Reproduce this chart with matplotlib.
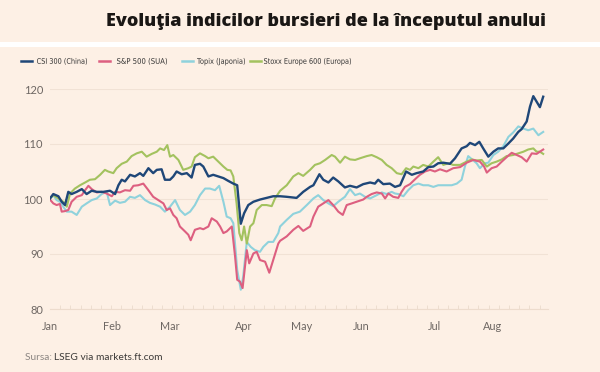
import matplotlib
matplotlib.use("Agg")
import matplotlib.pyplot as plt
from matplotlib.lines import Line2D
from matplotlib import font_manager as fm
from matplotlib.textpath import TextPath
from matplotlib.patches import PathPatch
from matplotlib.transforms import Affine2D
from matplotlib.font_manager import FontProperties

# ---------------- data (index values) ----------------
series_names = ["CSI 300 (China)", "S&P 500 (SUA)", "Topix (Japonia)", "Stoxx Europe 600 (Europa)"]
month_labels = ["Jan", "Feb", "Mar", "Apr", "May", "Jun", "Jul", "Aug"]
month_pos = [0, 20.7, 40, 64.5, 84, 103.7, 128, 147.5]   # trading-day index of month labels
y_ticks = [80, 90, 100, 110, 120]

csi_x = [0, 1.1, 2.8, 3.9, 5.0, 6.1, 7.2, 8.9, 10.6, 12.2, 13.9, 15.6, 17.8, 20.0, 21.7, 22.8,
         23.9, 25.0, 26.7, 28.3, 30.0, 31.1, 32.8, 34.4, 35.6, 37.2, 38.3, 40.0, 41.1, 42.2, 43.9,
         45.6, 47.2, 48.3, 50.0, 51.1, 52.8, 54.4, 56.1, 57.8, 59.4, 61.1, 62.4, 63.6, 64.7, 66.1,
         67.8, 70.0, 72.2, 74.4, 76.7, 78.9, 82.2, 84.4, 86.7, 87.8, 89.8, 91.1, 92.8, 94.4, 96.1,
         98.3, 100.0, 102.2, 104.4, 106.7, 108.3, 109.4, 111.1, 113.3, 115.0, 116.7, 118.7, 120.6,
         122.2, 124.4, 126.1, 127.8, 129.4, 131.1, 133.3, 135.0, 137.2, 138.9, 140.0, 141.7, 143.1,
         144.4, 146.1, 147.8, 149.4, 151.1, 152.8, 154.4, 156.1, 157.2, 158.9, 160.0, 161.1, 162.2,
         163.3, 164.4]
csi_y = [100.1, 100.9, 100.5, 99.5, 98.9, 101.3, 100.9, 101.3, 101.8, 100.9, 101.5, 101.3, 101.3,
         101.5, 100.9, 102.5, 103.5, 103.2, 104.4, 104.1, 104.7, 104.2, 105.6, 104.7, 105.3, 105.4,
         103.5, 103.5, 104.1, 105.0, 104.5, 104.7, 103.9, 106.2, 106.4, 105.9, 104.1, 104.4, 104.1,
         103.8, 103.3, 102.8, 102.5, 95.5, 97.4, 98.9, 99.5, 99.9, 100.2, 100.5, 100.5, 100.4, 100.2,
         101.3, 102.2, 102.5, 104.5, 103.5, 103.0, 103.9, 103.2, 102.1, 102.4, 102.1, 102.7, 103.0,
         102.8, 103.5, 102.7, 102.8, 102.2, 102.5, 105.0, 104.4, 104.7, 105.0, 105.8, 105.9, 106.5,
         106.6, 106.4, 107.4, 109.2, 109.6, 110.2, 109.8, 110.4, 109.2, 107.7, 108.6, 109.2, 109.2,
         110.1, 111.0, 112.2, 112.7, 114.1, 116.8, 118.7, 117.7, 116.7, 118.6]

spx_x = [0, 1.1, 2.2, 3.3, 3.9, 5.0, 6.1, 7.2, 8.9, 10.6, 11.7, 12.8, 13.9, 15.6, 17.2, 18.9, 20.6,
         21.7, 23.3, 25.0, 26.7, 27.8, 29.4, 31.1, 32.8, 34.4, 36.1, 37.8, 38.9, 40.0, 41.1, 42.2,
         43.3, 45.0, 46.1, 46.9, 48.3, 50.0, 51.1, 52.8, 53.9, 55.6, 56.7, 57.8, 58.9, 60.6, 61.7,
         62.4, 63.3, 64.2, 65.6, 66.4, 67.8, 68.9, 70.0, 71.7, 73.1, 74.4, 76.1, 76.7, 78.9, 81.1,
         82.8, 84.4, 86.7, 87.8, 89.4, 91.1, 92.8, 94.4, 96.1, 97.6, 98.9, 100.6, 102.2, 104.4,
         105.6, 107.2, 108.9, 110.6, 111.7, 112.8, 114.4, 116.1, 117.2, 118.3, 120.0, 121.7, 123.3,
         125.0, 126.7, 128.3, 130.0, 132.2, 134.4, 136.7, 138.9, 141.1, 143.3, 144.7, 145.6, 147.2,
         148.9, 150.6, 152.2, 153.9, 155.6, 157.2, 158.9, 160.6, 162.2, 163.3, 164.4]
spx_y = [99.9, 99.2, 98.9, 99.1, 97.7, 97.8, 98.0, 99.5, 100.4, 100.7, 101.6, 102.4, 101.8, 101.2,
         101.3, 101.0, 100.5, 101.3, 101.2, 101.6, 101.5, 102.4, 102.5, 102.8, 101.6, 100.4, 99.8,
         99.2, 98.0, 98.3, 97.1, 96.5, 95.0, 94.1, 93.5, 92.5, 94.4, 94.7, 94.5, 95.0, 96.5, 95.9,
         95.0, 93.8, 94.1, 95.0, 89.5, 85.3, 85.0, 83.8, 90.7, 88.3, 90.1, 90.4, 88.9, 88.6, 86.6,
         88.9, 91.9, 92.4, 93.2, 94.4, 95.1, 94.2, 95.0, 96.8, 98.6, 99.2, 99.8, 98.9, 97.7, 97.1,
         98.9, 99.2, 99.5, 99.9, 100.4, 100.9, 101.2, 101.0, 100.1, 101.0, 100.4, 100.2, 101.3,
         102.2, 102.7, 103.6, 104.4, 105.0, 105.3, 105.0, 105.4, 105.0, 105.6, 105.8, 106.6, 107.1,
         106.8, 105.9, 104.8, 105.6, 105.9, 106.8, 107.6, 108.4, 108.0, 107.6, 106.8, 108.3, 108.2,
         108.6, 109.0]

topix_x = [0, 1.1, 2.2, 3.3, 4.4, 5.6, 7.2, 8.9, 10.6, 12.2, 13.9, 15.6, 17.2, 18.9, 20.0, 21.7,
           23.3, 25.0, 26.7, 28.3, 30.0, 31.7, 33.3, 35.0, 36.7, 38.3, 40.0, 41.7, 43.3, 45.0, 46.7,
           48.3, 50.0, 51.7, 53.3, 55.0, 56.4, 57.8, 58.9, 60.2, 61.1, 62.4, 63.6, 64.4, 65.6, 66.9,
           68.3, 70.0, 71.1, 72.8, 74.4, 76.1, 76.7, 78.9, 81.1, 83.3, 85.6, 87.8, 89.4, 91.1, 92.8,
           94.4, 96.1, 98.3, 100.0, 101.7, 103.3, 105.0, 106.7, 108.9, 110.6, 112.2, 113.9, 115.0,
           116.1, 117.8, 119.4, 121.1, 122.8, 124.4, 126.1, 127.8, 129.4, 131.7, 133.9, 135.6, 137.2,
           138.3, 139.4, 140.9, 142.2, 143.3, 145.0, 146.1, 147.8, 149.4, 151.1, 152.8, 154.4, 156.1,
           157.8, 159.4, 161.1, 162.8, 164.4]
topix_y = [100.1, 100.7, 99.8, 99.5, 98.6, 97.7, 97.7, 97.1, 98.6, 99.2, 99.8, 100.1, 100.9, 101.3,
           98.9, 99.7, 99.3, 99.5, 100.4, 100.2, 100.7, 99.8, 99.3, 99.0, 98.6, 97.7, 98.6, 99.8, 98.0,
           97.1, 97.7, 98.9, 100.7, 101.9, 101.9, 101.6, 102.4, 99.5, 96.8, 96.5, 95.6, 87.1, 83.5,
           85.9, 92.2, 91.3, 90.7, 90.4, 91.3, 92.2, 92.2, 93.8, 95.0, 96.2, 97.3, 97.7, 98.9, 100.1,
           100.7, 99.8, 99.2, 98.7, 99.5, 100.4, 101.8, 100.7, 101.0, 100.4, 100.1, 100.7, 101.2,
           100.9, 101.3, 101.0, 100.9, 100.5, 101.6, 102.5, 102.8, 102.5, 102.5, 102.2, 102.5, 102.5,
           102.5, 102.8, 103.5, 105.9, 107.8, 107.1, 106.5, 105.6, 106.5, 106.6, 108.0, 108.6, 109.6,
           111.3, 112.1, 113.2, 112.8, 112.5, 112.8, 111.6, 112.2]

stoxx_x = [0, 1.1, 2.8, 4.4, 5.6, 6.7, 8.3, 10.0, 11.7, 13.3, 15.0, 16.7, 18.3, 19.4, 21.1, 22.2,
           23.9, 25.6, 27.2, 28.9, 30.6, 32.2, 33.9, 35.6, 36.7, 38.0, 39.1, 40.0, 41.1, 42.8, 44.4,
           46.1, 47.2, 48.3, 50.0, 51.7, 52.8, 54.4, 56.1, 57.8, 59.1, 60.2, 61.1, 62.2, 63.1, 63.9,
           64.7, 65.6, 66.7, 67.8, 68.9, 70.6, 72.2, 73.9, 75.0, 76.7, 78.9, 81.1, 82.8, 84.4, 86.7,
           88.3, 90.0, 91.7, 93.9, 95.0, 96.7, 98.3, 100.0, 101.7, 103.3, 105.6, 107.2, 108.9, 110.6,
           112.2, 113.9, 115.6, 117.2, 118.7, 120.0, 121.1, 122.8, 124.4, 126.1, 127.8, 129.4, 131.1,
           132.8, 134.4, 136.7, 138.9, 140.6, 142.2, 143.9, 145.6, 147.2, 148.9, 150.6, 152.2, 154.4,
           156.1, 157.8, 159.4, 161.1, 162.2, 163.3, 164.4]
stoxx_y = [100.1, 100.7, 100.1, 99.5, 98.6, 101.0, 101.9, 102.5, 103.0, 103.5, 103.6, 104.4, 105.3,
           105.0, 104.7, 105.6, 106.4, 106.8, 107.8, 108.3, 108.6, 107.7, 108.2, 108.6, 109.2, 108.9,
           109.8, 107.7, 108.0, 107.1, 105.3, 105.6, 105.9, 107.6, 108.3, 107.8, 107.4, 107.7, 106.8,
           105.9, 105.3, 105.2, 104.1, 99.2, 93.8, 92.5, 95.0, 91.9, 95.0, 95.6, 98.0, 98.9, 98.9,
           98.7, 100.1, 101.5, 102.5, 104.1, 104.7, 104.2, 105.3, 106.2, 106.5, 107.1, 108.0, 107.7,
           106.6, 107.7, 107.2, 107.1, 107.4, 107.8, 108.0, 107.6, 107.1, 106.2, 105.6, 104.7, 104.5,
           105.6, 105.3, 105.9, 105.6, 106.2, 105.9, 106.8, 107.6, 106.2, 106.5, 106.2, 106.2, 106.8,
           107.2, 107.0, 107.1, 105.9, 106.5, 106.8, 107.2, 107.8, 108.0, 108.3, 108.6, 109.0, 109.2,
           108.6, 108.6, 108.2]

# ---------------- style ----------------
BG = "#fdf0e5"
C_CSI = "#1f4778"
C_SPX = "#dd5f80"
C_TOPIX = "#8fd2dc"
C_STOXX = "#a3c25f"
GRID = "#f1e2d5"
TICK_TXT = "#6e6763"

available = {f.name for f in fm.fontManager.ttflist}
body = "Lato" if "Lato" in available else "DejaVu Sans"
title_font = "Open Sans" if "Open Sans" in available else "DejaVu Sans"

fig = plt.figure(figsize=(6.0, 3.72), dpi=100)
fig.patch.set_facecolor(BG)

W, H = 600.0, 372.0
def fx(px):
    return px / W
def fy(py):
    return 1 - py / H

# white separator band
fig.patches.append(plt.Rectangle((0, fy(47)), 1, (47 - 42) / H, transform=fig.transFigure,
                                 facecolor="white", edgecolor="none", zorder=0))

# title
fig.text(fx(326.5), fy(21), "Evoluţia indicilor bursieri de la începutul anului",
         ha="center", va="center", fontsize=13.0, fontweight="heavy",
         family=[title_font, "DejaVu Sans"], color="#1a1715")

ax = fig.add_axes([fx(50), fy(309), (548 - 50) / W, (309 - 89) / H])
ax.set_facecolor(BG)

ax.plot(topix_x, topix_y, color=C_TOPIX, lw=1.5, zorder=3, solid_joinstyle="round")
ax.plot(stoxx_x, stoxx_y, color=C_STOXX, lw=1.5, zorder=4, solid_joinstyle="round")
ax.plot(spx_x, spx_y, color=C_SPX, lw=1.5, zorder=5, solid_joinstyle="round")
ax.plot(csi_x, csi_y, color=C_CSI, lw=1.7, zorder=6, solid_joinstyle="round")

ax.set_xlim(0, 166)
ax.set_ylim(80, 120)
ax.set_yticks(y_ticks)
ax.set_yticklabels([str(v) for v in y_ticks])
ax.set_xticks(month_pos)
ax.set_xticklabels(month_labels)
ax.set_xticks([i * 3.4 for i in range(49)], minor=True)
ax.tick_params(axis="y", length=0, pad=5, labelsize=8, labelcolor=TICK_TXT)
ax.tick_params(axis="x", which="major", length=0, pad=9, labelsize=7.8, labelcolor=TICK_TXT)
ax.tick_params(axis="x", which="minor", length=3, width=0.6, color="#eadbcc", direction="in")
for lab in ax.get_xticklabels() + ax.get_yticklabels():
    lab.set_family([body, "DejaVu Sans"])
ax.grid(axis="y", color=GRID, lw=0.8, zorder=0)
for s in ["left", "right", "top"]:
    ax.spines[s].set_visible(False)
ax.spines["bottom"].set_color("#eddccd")
ax.spines["bottom"].set_linewidth(0.8)

# legend (manual; condensed lettering made by squeezing the glyph outlines horizontally)
leg_items = [(21, 37, 87, C_CSI), (99, 117, 167, C_SPX), (182, 197, 245, C_TOPIX),
             (250, 264, 351, C_STOXX)]
leg_prop = FontProperties(family="DejaVu Sans")
cap_px = 5.6
size_px = cap_px / 0.729
baseline_disp = H - (61 + cap_px / 2)
for (lx, tx, tend, col), name in zip(leg_items, series_names):
    fig.lines.append(Line2D([fx(lx), fx(lx + 11)], [fy(61), fy(61)], transform=fig.transFigure,
                            color=col, lw=1.8))
    tp = TextPath((0, 0), name, size=size_px, prop=leg_prop)
    ext = tp.get_extents()
    sx = (tend - tx) / ext.width
    tr = Affine2D().translate(-ext.x0, 0).scale(sx, 1.0).translate(tx, baseline_disp)
    fig.patches.append(PathPatch(tp, transform=tr, facecolor="#333333", edgecolor="none",
                                 lw=0))

# source
t1 = fig.text(fx(25), fy(357), "Sursa: ", ha="left", va="center", fontsize=7.3,
              family=[body, "DejaVu Sans"], color="#8c8682")
fig.canvas.draw()
r = fig.canvas.get_renderer()
bb = t1.get_window_extent(r)
fig.text(bb.x1 / W, fy(357), "LSEG via markets.ft.com", ha="left", va="center", fontsize=7.3,
         family=[body, "DejaVu Sans"], color="#3c3a38")

fig.savefig("out.png", dpi=100, facecolor=BG)
